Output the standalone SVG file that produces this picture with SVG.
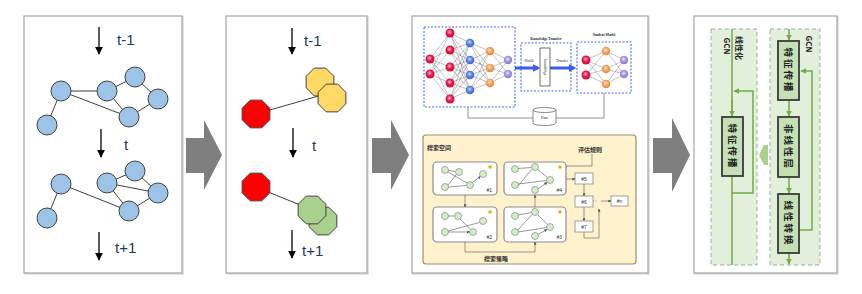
<svg xmlns="http://www.w3.org/2000/svg" width="862" height="294" viewBox="0 0 862 294">
<defs>
<style>
.panel{fill:#fff;stroke:#a6a6a6;stroke-width:1.2}
.shadow{fill:none;stroke:#dadada;stroke-width:1.5}
.lbl{font-family:"Liberation Sans",Arial,sans-serif;font-size:15px;fill:#1f3864}
.darr{stroke:#000;stroke-width:1.3;fill:none;marker-end:url(#blk)}
.gn{fill:#9dc3e6;stroke:#404040;stroke-width:1}
.ge{stroke:#404040;stroke-width:1;fill:none}
.oct{stroke:#404040;stroke-width:1}
.big{fill:#7f7f7f}
.nn{stroke:#555;stroke-width:0.35;fill:none}
.dash{fill:none;stroke:#4a6cf7;stroke-width:1.1;stroke-dasharray:2 1.5}
.tiny{font-family:"Liberation Serif",serif;font-size:3.6px;fill:#222}
.cn{font-family:"Noto Sans CJK SC",sans-serif;font-size:6px;fill:#333;font-weight:bold}
.sub{fill:#fff;stroke:#8c8c8c;stroke-width:1.2}
.sn{fill:#d5ecc7;stroke:#7a7a7a;stroke-width:0.6}
.se{stroke:#555;stroke-width:0.6;fill:none;marker-end:url(#sa)}
.sl{stroke:#666;stroke-width:0.7;fill:none}
.sb{fill:#fff;stroke:#888;stroke-width:0.8}
.st{font-family:"Liberation Sans",Arial,sans-serif;font-size:5px;fill:#333}
.gbox{fill:#e2efda;stroke:#a6a6a6;stroke-width:1;stroke-dasharray:4 3}
.gl{stroke:#70ad47;stroke-width:1.5;fill:none}
.gla{stroke:#70ad47;stroke-width:1.5;fill:none;marker-end:url(#ga)}
.fb{fill:#c5e0b4;stroke:#3a3a3a;stroke-width:1.8}
.rt{font-family:"Noto Sans CJK SC",sans-serif;font-size:9.5px;fill:#222;font-weight:bold;letter-spacing:2px}
.rg{font-family:"Noto Sans CJK SC",sans-serif;font-size:8px;fill:#222;font-weight:bold}
</style>
<marker id="blk" viewBox="0 0 10 10" refX="9" refY="5" markerWidth="6" markerHeight="6" orient="auto"><path d="M0,0L10,5L0,10z" fill="#000"/></marker>
<marker id="ga" viewBox="0 0 10 10" refX="9" refY="5" markerWidth="4" markerHeight="4" orient="auto"><path d="M0,0L10,5L0,10z" fill="#70ad47"/></marker>
<marker id="sa" viewBox="0 0 10 10" refX="9" refY="5" markerWidth="5" markerHeight="5" orient="auto"><path d="M0,0L10,5L0,10z" fill="#555"/></marker>
<marker id="ba" viewBox="0 0 10 10" refX="7" refY="5" markerWidth="2.6" markerHeight="2.6" orient="auto"><path d="M0,0L10,5L0,10z" fill="#3a5cf0"/></marker>
<polygon id="oct" points="5.74,-13.86 13.86,-5.74 13.86,5.74 5.74,13.86 -5.74,13.86 -13.86,5.74 -13.86,-5.74 -5.74,-13.86"/>
<radialGradient id="gr" cx="0.45" cy="0.4" r="0.6"><stop offset="0" stop-color="#ffc0d0"/><stop offset="0.5" stop-color="#e8174a"/><stop offset="1" stop-color="#c8103c"/></radialGradient>
<radialGradient id="gb" cx="0.45" cy="0.4" r="0.6"><stop offset="0" stop-color="#d0dcff"/><stop offset="0.5" stop-color="#5b7fe8"/><stop offset="1" stop-color="#3f62d0"/></radialGradient>
<radialGradient id="go" cx="0.45" cy="0.4" r="0.6"><stop offset="0" stop-color="#ffe4c8"/><stop offset="0.5" stop-color="#f4a460"/><stop offset="1" stop-color="#e08a40"/></radialGradient>
<radialGradient id="gp" cx="0.45" cy="0.4" r="0.6"><stop offset="0" stop-color="#e8e0ff"/><stop offset="0.5" stop-color="#a596e0"/><stop offset="1" stop-color="#8a78d0"/></radialGradient>
</defs>

<!-- Panel 1 -->
<g id="panel1">
<rect class="shadow" x="25" y="17" width="158" height="257"/>
<rect class="panel" x="24" y="16" width="158" height="257"/>
<line class="darr" x1="99" y1="27" x2="99" y2="54"/>
<text class="lbl" x="117" y="45">t-1</text>
<g class="ge"><path d="M61 91L107 91M61 91L129 117M61 91L47 125M107 91L135 77M107 91L129 117M135 77L158 99M158 99L129 117"/></g>
<circle class="gn" cx="61" cy="91" r="10"/><circle class="gn" cx="107" cy="91" r="10"/><circle class="gn" cx="135" cy="77" r="10"/><circle class="gn" cx="158" cy="99" r="10"/><circle class="gn" cx="129" cy="117" r="10"/><circle class="gn" cx="47" cy="125" r="10"/>
<line class="darr" x1="101" y1="129" x2="101" y2="157"/>
<text class="lbl" x="124" y="150">t</text>
<g class="ge"><path d="M61 184L47 218M61 184L129 211M107 183L135 171M107 183L158 193M107 183L129 211M135 171L158 193M158 193L129 211"/></g>
<circle class="gn" cx="61" cy="184" r="10"/><circle class="gn" cx="107" cy="183" r="10"/><circle class="gn" cx="135" cy="171" r="10"/><circle class="gn" cx="158" cy="193" r="10"/><circle class="gn" cx="129" cy="211" r="10"/><circle class="gn" cx="47" cy="218" r="10"/>
<line class="darr" x1="99" y1="232" x2="99" y2="260"/>
<text class="lbl" x="115" y="253">t+1</text>
</g>

<g id="arrow1"><polygon class="big" points="186,138 204,138 204,120 222,155 204,190 204,173 186,173"/></g>

<!-- Panel 2 -->
<g id="panel2">
<rect class="shadow" x="227" y="17" width="141" height="257"/>
<rect class="panel" x="226" y="16" width="141" height="257"/>
<line class="darr" x1="292" y1="28" x2="292" y2="54"/>
<text class="lbl" x="304" y="46">t-1</text>
<line class="ge" x1="256" y1="114" x2="322" y2="95"/>
<use href="#oct" x="320" y="82" class="oct" fill="#ffd966"/>
<use href="#oct" x="332" y="98" class="oct" fill="#ffd966"/>
<use href="#oct" x="256" y="114" class="oct" fill="#ff0000"/>
<line class="darr" x1="293" y1="128" x2="293" y2="157"/>
<text class="lbl" x="312" y="151">t</text>
<line class="ge" x1="256" y1="187" x2="305" y2="207"/>
<use href="#oct" x="323" y="221" class="oct" fill="#a9d18e"/>
<use href="#oct" x="312" y="210" class="oct" fill="#a9d18e"/>
<use href="#oct" x="256" y="187" class="oct" fill="#ff0000"/>
<line class="darr" x1="292" y1="230" x2="292" y2="258"/>
<text class="lbl" x="302" y="256">t+1</text>
</g>

<g id="arrow2"><polygon class="big" points="372,138 391,138 391,120 409,155 391,190 391,173 372,173"/></g>

<!-- Panel 3 -->
<g id="panel3">
<rect class="shadow" x="413" y="17" width="236" height="257"/>
<rect class="panel" x="412" y="16" width="236" height="257"/>
<!-- teacher -->
<rect class="dash" x="424" y="27" width="91" height="80"/>
<path class="nn" d="M430 59L450 33M430 59L450 50M430 59L450 67M430 59L450 83M430 59L450 99M430 74L450 33M430 74L450 50M430 74L450 67M430 74L450 83M430 74L450 99M450 33L470 43M450 33L470 60M450 33L470 75M450 33L470 90M450 50L470 43M450 50L470 60M450 50L470 75M450 50L470 90M450 67L470 43M450 67L470 60M450 67L470 75M450 67L470 90M450 83L470 43M450 83L470 60M450 83L470 75M450 83L470 90M450 99L470 43M450 99L470 60M450 99L470 75M450 99L470 90M470 43L490 51M470 43L490 68M470 43L490 83M470 60L490 51M470 60L490 68M470 60L490 83M470 75L490 51M470 75L490 68M470 75L490 83M470 90L490 51M470 90L490 68M470 90L490 83M490 51L508 60M490 51L508 74M490 68L508 60M490 68L508 74M490 83L508 60M490 83L508 74"/>
<g fill="url(#gr)"><circle cx="430" cy="59" r="4.5"/><circle cx="430" cy="74" r="4.5"/><circle cx="450" cy="33" r="4.5"/><circle cx="450" cy="50" r="4.5"/><circle cx="450" cy="67" r="4.5"/><circle cx="450" cy="83" r="4.5"/><circle cx="450" cy="99" r="4.5"/></g>
<g fill="url(#gb)"><circle cx="470" cy="43" r="4.3"/><circle cx="470" cy="60" r="4.3"/><circle cx="470" cy="75" r="4.3"/><circle cx="470" cy="90" r="4.3"/></g>
<g fill="url(#go)"><circle cx="490" cy="51" r="4.3"/><circle cx="490" cy="68" r="4.3"/><circle cx="490" cy="83" r="4.3"/></g>
<g fill="url(#gp)"><circle cx="508" cy="60" r="4.2"/><circle cx="508" cy="74" r="4.2"/></g>
<!-- knowledge transfer -->
<text class="tiny" x="546" y="40" text-anchor="middle" font-weight="bold">Knowledge Transfer</text>
<rect class="dash" x="521" y="43" width="50" height="48"/>
<rect x="540" y="48" width="10" height="38" fill="#fff" stroke="#333" stroke-width="0.7"/>
<text class="tiny" transform="translate(545,67) rotate(90)" text-anchor="middle" dominant-baseline="central" font-size="4.2px">Knowledge</text>
<text class="tiny" x="529" y="62" text-anchor="middle">Distill</text>
<text class="tiny" x="562" y="62" text-anchor="middle">Transfer</text>
<line x1="515" y1="68" x2="538" y2="68" stroke="#3a5cf0" stroke-width="3" marker-end="url(#ba)"/>
<line x1="550" y1="68" x2="574" y2="68" stroke="#3a5cf0" stroke-width="3" marker-end="url(#ba)"/>
<!-- student -->
<text class="tiny" x="604" y="36" text-anchor="middle" font-weight="bold">Student Model</text>
<rect class="dash" x="577" y="42" width="54" height="51"/>
<path class="nn" d="M586 60L606 51M586 60L606 69M586 60L606 84M586 75L606 51M586 75L606 69M586 75L606 84M606 51L624 60M606 51L624 74M606 69L624 60M606 69L624 74M606 84L624 60M606 84L624 74"/>
<g fill="url(#gr)"><circle cx="586" cy="60" r="4.5"/><circle cx="586" cy="75" r="4.5"/></g>
<g fill="url(#go)"><circle cx="606" cy="51" r="4.3"/><circle cx="606" cy="69" r="4.3"/><circle cx="606" cy="84" r="4.3"/></g>
<g fill="url(#gp)"><circle cx="624" cy="60" r="4.2"/><circle cx="624" cy="74" r="4.2"/></g>
<!-- data -->
<path d="M468 107V118H533M556 118H604V93" fill="none" stroke="#666" stroke-width="0.7"/>
<path d="M533 110V123A11.5 2.5 0 0 0 556 123V110" fill="#fff" stroke="#555" stroke-width="0.7"/>
<ellipse cx="544.5" cy="110" rx="11.5" ry="2.5" fill="#fff" stroke="#555" stroke-width="0.7"/>
<text class="tiny" x="544.5" y="119" text-anchor="middle">Data</text>
<!-- search space -->
<rect x="423" y="135" width="213" height="129" rx="3" fill="#fff2cc" stroke="#9c9070" stroke-width="1.2"/>
<text class="cn" x="427" y="150">搜索空间</text>
<text class="cn" x="590" y="152" text-anchor="middle">评估规则</text>
<text class="cn" x="496" y="261" text-anchor="middle">搜索策略</text>
<rect class="sub" x="433" y="162" width="64" height="33" rx="4"/>
<rect class="sub" x="504" y="162" width="62" height="33" rx="4"/>
<rect class="sub" x="433" y="207" width="64" height="35" rx="4"/>
<rect class="sub" x="504" y="207" width="62" height="35" rx="4"/>
<g fill="#f4b000"><circle cx="490" cy="167" r="1.8"/><circle cx="560" cy="167" r="1.8"/><circle cx="490" cy="212" r="1.8"/><circle cx="560" cy="212" r="1.8"/></g>
<text class="st" x="492" y="192" text-anchor="end">#1</text>
<text class="st" x="562" y="192" text-anchor="end">#4</text>
<text class="st" x="492" y="239" text-anchor="end">#2</text>
<text class="st" x="562" y="239" text-anchor="end">#3</text>
<!-- connectors of search space -->
<path class="sl" d="M592 154V166H566"/>
<line class="se" x1="566" y1="179" x2="575" y2="179"/>
<line class="se" x1="584" y1="183" x2="584" y2="196"/>
<line class="se" x1="584" y1="207" x2="584" y2="221"/>
<path class="sl" d="M593 201H597" stroke-dasharray="1 1.5"/>
<line class="se" x1="601" y1="201" x2="611" y2="201"/>
<path class="se" d="M584 232V238H599V209"/>
<line class="se" x1="465" y1="195" x2="465" y2="207"/>
<path class="se" d="M465 242V252H535V242"/>
<line class="se" x1="535" y1="207" x2="535" y2="195"/>
<rect class="sb" x="575" y="173" width="18" height="11"/>
<rect class="sb" x="575" y="196" width="18" height="11"/>
<rect class="sb" x="575" y="221" width="18" height="11"/>
<rect class="sb" x="611" y="196" width="17" height="10"/>
<text class="st" x="584" y="180.5" text-anchor="middle">#5</text>
<text class="st" x="584" y="203.5" text-anchor="middle">#6</text>
<text class="st" x="584" y="228.5" text-anchor="middle">#7</text>
<text class="st" x="619.5" y="203" text-anchor="middle">#n</text>
<!-- small graphs -->
<path class="se" d="M448 170.5L455.5 171.5M448 172L467 183M448 185L456 175M448 187L466.5 185.5M472.5 182.5L480.5 176.5"/>
<path class="se" d="M448 216L454.5 216M460 219L470.5 229M448 231L479.5 222.5M448 232L469.5 232"/>
<path class="se" d="M518 168.5L531.5 167.5M537.5 169.5L547.5 177.5M518 184L546.5 180.5M518 186L531.5 169.5M538 189L547 182.5"/>
<path class="se" d="M518 215L531.5 212.5M537.5 214.5L547.5 224.5M518 230L532 214.5M518 232L546.5 227.5M538 234.5L547 229.5"/>
<g class="sn">
<circle cx="445" cy="170" r="3.5"/><circle cx="459" cy="172" r="3.5"/><circle cx="445" cy="187" r="3.5"/><circle cx="470" cy="185" r="3.5"/><circle cx="483" cy="174" r="3.5"/>
<circle cx="445" cy="216" r="3.5"/><circle cx="458" cy="216" r="3.5"/><circle cx="445" cy="232" r="3.5"/><circle cx="473" cy="232" r="3.5"/><circle cx="483" cy="221" r="3.5"/>
<circle cx="515" cy="169" r="3.5"/><circle cx="535" cy="167" r="3.5"/><circle cx="515" cy="185" r="3.5"/><circle cx="550" cy="180" r="3.5"/><circle cx="535" cy="190" r="3.5"/>
<circle cx="515" cy="216" r="3.5"/><circle cx="535" cy="212" r="3.5"/><circle cx="515" cy="232" r="3.5"/><circle cx="550" cy="227" r="3.5"/><circle cx="535" cy="236" r="3.5"/>
</g>
</g>

<g id="arrow3"><polygon class="big" points="653,138 672,138 672,118 690,155 672,192 672,173 653,173"/></g>

<!-- Panel 4 -->
<g id="panel4">
<rect class="shadow" x="695" y="17" width="143" height="257"/>
<rect class="panel" x="694" y="16" width="143" height="257"/>
<rect class="gbox" x="711" y="29" width="46" height="236"/>
<rect class="gbox" x="770" y="29" width="50" height="236"/>
<polygon points="759,155 764,145 768,145 768,165 764,165" fill="#a9d18e"/>
<g id="conn4">
<line class="gl" x1="732" y1="29" x2="732" y2="265"/>
<line class="gla" x1="732" y1="100" x2="732" y2="116"/>
<path class="gla" d="M732 193H753V91H734"/>
<line class="gla" x1="789" y1="29" x2="789" y2="40"/>
<line class="gla" x1="789" y1="100" x2="789" y2="116"/>
<line class="gla" x1="789" y1="177" x2="789" y2="193"/>
<line class="gla" x1="789" y1="253" x2="789" y2="264"/>
<path class="gla" d="M799 230H812V71H801"/>
</g>
<g id="lin-box"><rect class="fb" x="722" y="117" width="21" height="59"/>
<text class="rt" transform="translate(732.5,146.5) rotate(90)" text-anchor="middle" dominant-baseline="central">特征传播</text></g>
<g id="gcn-box1"><rect class="fb" x="778" y="41" width="21" height="59"/>
<text class="rt" transform="translate(788.5,70.5) rotate(90)" text-anchor="middle" dominant-baseline="central">特征传播</text></g>
<g id="gcn-box2"><rect class="fb" x="778" y="117" width="21" height="60"/>
<text class="rt" transform="translate(788.5,147) rotate(90)" text-anchor="middle" dominant-baseline="central">非线性层</text></g>
<g id="gcn-box3"><rect class="fb" x="778" y="194" width="21" height="59"/>
<text class="rt" transform="translate(788.5,223.5) rotate(90)" text-anchor="middle" dominant-baseline="central">线性转换</text></g>
<text class="rg" transform="translate(739,48) rotate(90)" text-anchor="middle" dominant-baseline="central">线性化</text>
<text class="rg" transform="translate(727.5,46) rotate(90)" text-anchor="middle" dominant-baseline="central">GCN</text>
<text class="rg" transform="translate(809.5,44) rotate(90)" text-anchor="middle" dominant-baseline="central">GCN</text>
</g>
</svg>
